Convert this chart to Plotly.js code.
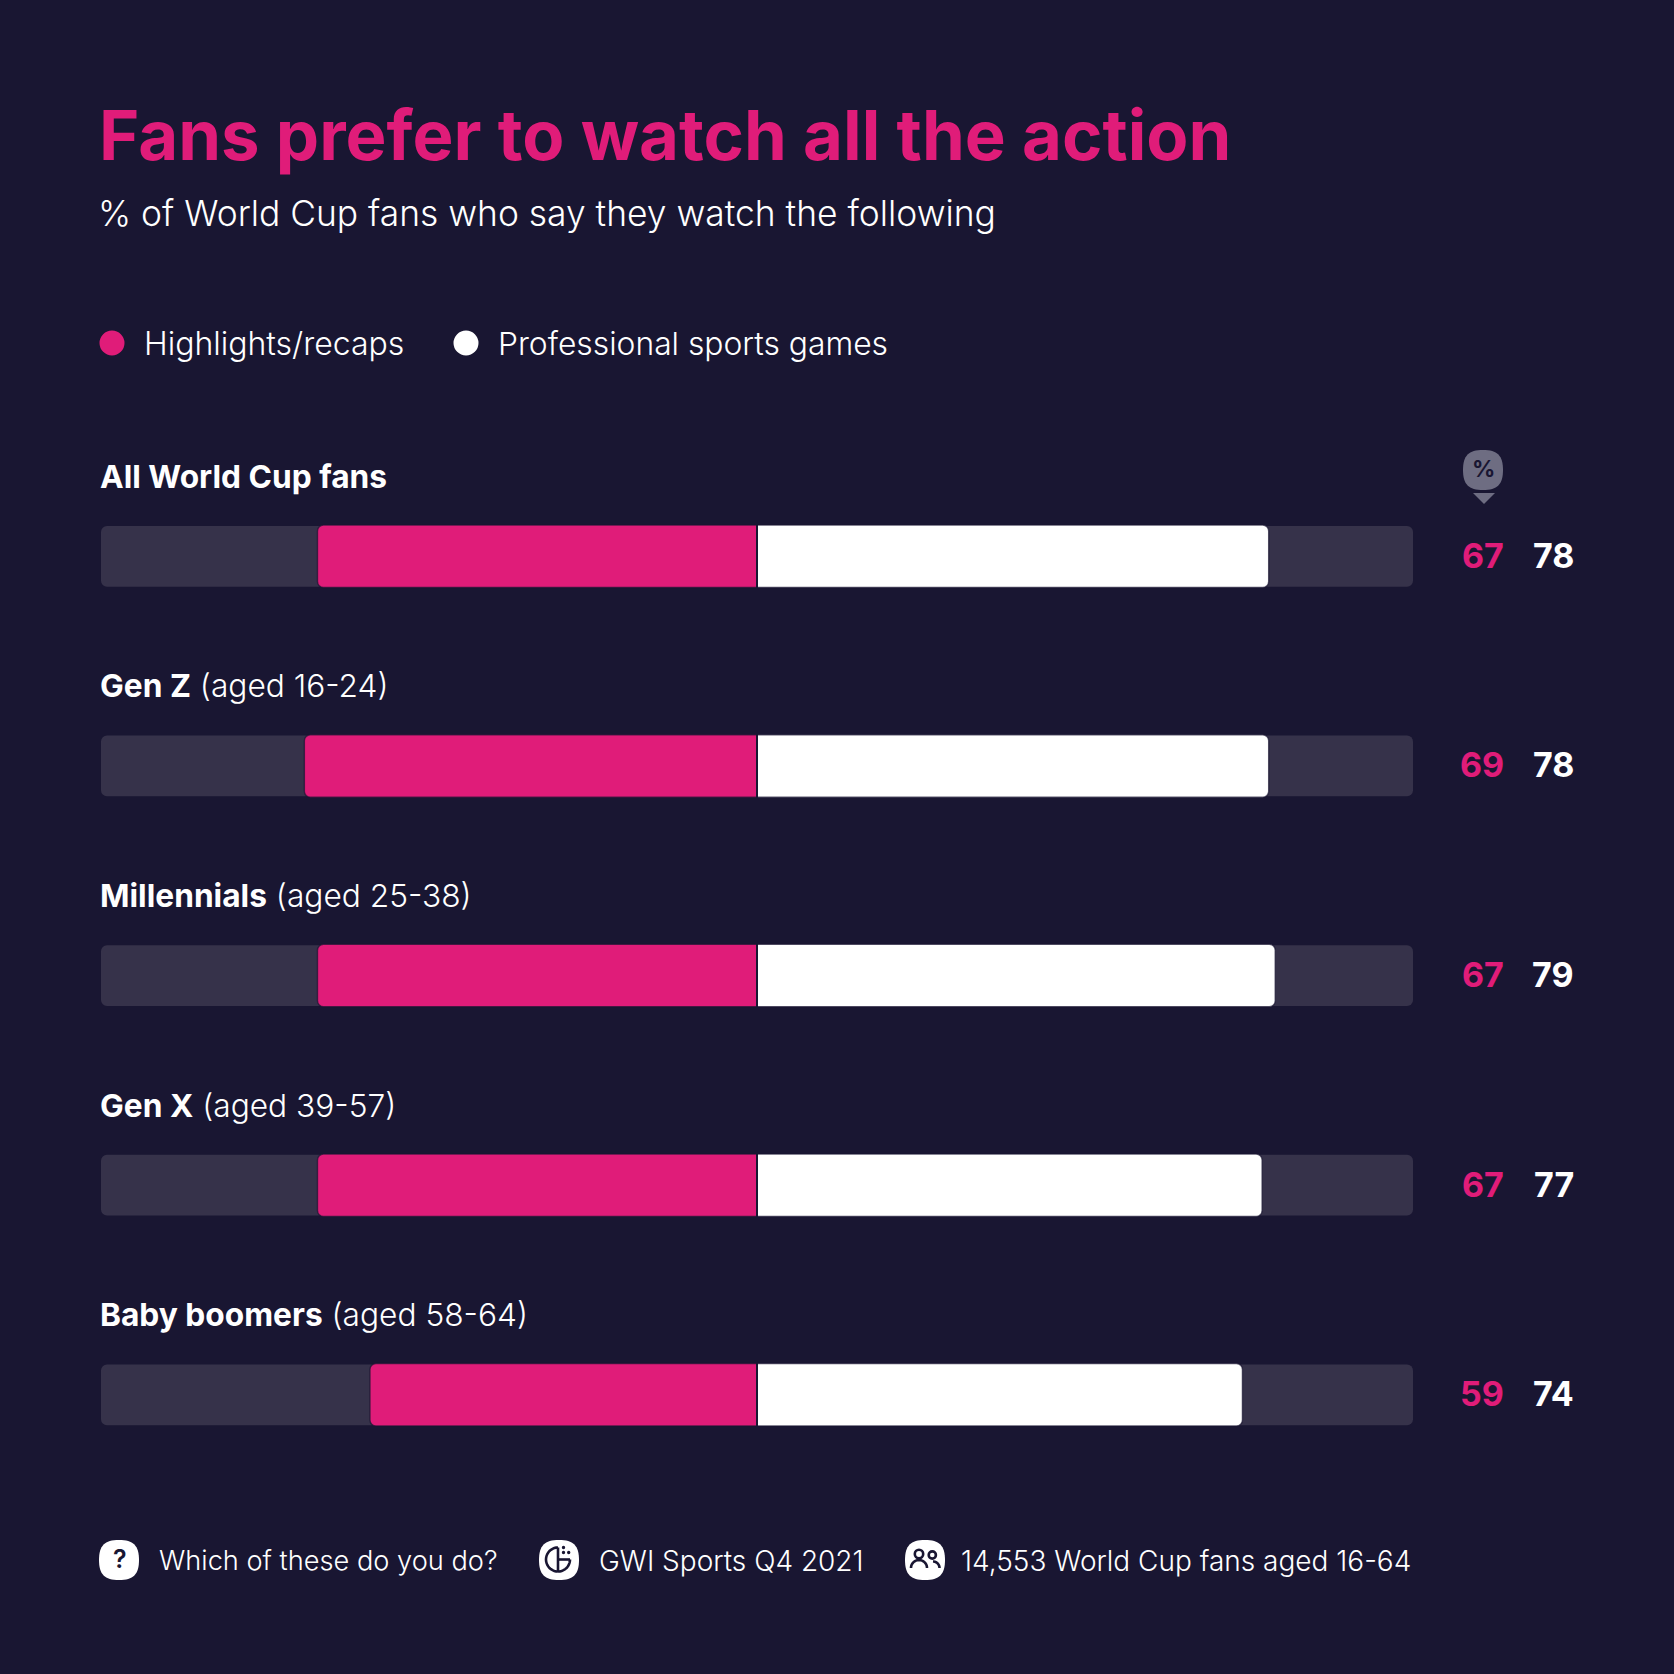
<!DOCTYPE html>
<html>
<head>
<meta charset="utf-8">
<script src="https://cdn.plot.ly/plotly-3.0.1.min.js"></script>
<style>html,body{margin:0;padding:0;background:#191632}#chart{width:1674px;height:1674px}</style>
</head>
<body>
<div id="chart"></div>
<script>
const groups = ['All World Cup fans', 'Gen Z', 'Millennials', 'Gen X', 'Baby boomers'];
const groupNotes = ['', '(aged 16-24)', '(aged 25-38)', '(aged 39-57)', '(aged 58-64)'];
const highlights = [67, 69, 67, 67, 59];
const professional = [78, 78, 79, 77, 74];
const trackMax = [100, 100, 100, 100, 100];

const BG = '#191632', PINK = '#e01c79', TRACK = '#36324a', BADGE = '#6e6d82', WHITE = '#ffffff';
const FONT = 'Inter, sans-serif';
const S = 1674;
const px = v => v / S;
const py = v => 1 - v / S;

function squircle(x0, y0, x1, y1) {
  const w = x1 - x0, h = y1 - y0, k = 0.14;
  const P = (x, y) => px(x) + ',' + py(y);
  const cx = (x0 + x1) / 2, cy = (y0 + y1) / 2;
  return 'M' + P(cx, y0) +
    'C' + P(x1 - w * k, y0) + ' ' + P(x1, y0 + h * k) + ' ' + P(x1, cy) +
    'C' + P(x1, y1 - h * k) + ' ' + P(x1 - w * k, y1) + ' ' + P(cx, y1) +
    'C' + P(x0 + w * k, y1) + ' ' + P(x0, y1 - h * k) + ' ' + P(x0, cy) +
    'C' + P(x0, y0 + h * k) + ' ' + P(x0 + w * k, y0) + ' ' + P(cx, y0) + 'Z';
}
function circle(cx, cy, r, color, line) {
  return {type: 'circle', xref: 'paper', yref: 'paper',
    x0: px(cx - r), x1: px(cx + r), y0: py(cy + r), y1: py(cy - r),
    fillcolor: line ? 'rgba(0,0,0,0)' : color,
    line: line ? {color: color, width: line} : {width: 0}};
}
function poly(points, color) {
  return {type: 'path', xref: 'paper', yref: 'paper', fillcolor: color, line: {width: 0},
    path: 'M' + points.map(p => px(p[0]) + ',' + py(p[1])).join('L') + 'Z'};
}
function arcPath(cx, cy, r, color, width, a0, a1) {
  const n = 20, pts = [];
  for (let i = 0; i <= n; i++) {
    const a = (a0 + (a1 - a0) * i / n) * Math.PI / 180;
    pts.push(px(cx + r * Math.cos(a)) + ',' + py(cy + r * Math.sin(a)));
  }
  return {type: 'path', xref: 'paper', yref: 'paper', line: {color: color, width: width},
    path: 'M' + pts.join('L')};
}
function seg(x0, y0, x1, y1, color, width) {
  return {type: 'line', xref: 'paper', yref: 'paper', x0: px(x0), x1: px(x1),
    y0: py(y0), y1: py(y1), line: {color: color, width: width}};
}
function text(str, x, y, size, color, anchor, weight) {
  return {text: str, xref: 'paper', yref: 'paper', x: px(x), y: py(y),
    xanchor: anchor || 'left', yanchor: 'middle', showarrow: false,
    font: {family: FONT, size: size, color: color, weight: weight || 300}};
}

const xDom = [px(101), px(1413)];
const yDom = [py(1499.6), py(451.5)];
const edge = {color: 'rgba(25,22,50,0.7)', width: 1.4};

const traces = [
  {type: 'bar', orientation: 'h', name: 'Track', y: groups, x: trackMax.map(v => -v), width: 0.29,
   marker: {color: TRACK, line: {width: 0}}, hoverinfo: 'skip', showlegend: false, xaxis: 'x', yaxis: 'y'},
  {type: 'bar', orientation: 'h', name: 'Track', y: groups, x: trackMax, width: 0.29,
   marker: {color: TRACK, line: {width: 0}}, hoverinfo: 'skip', showlegend: false, xaxis: 'x', yaxis: 'y'},
  {type: 'bar', orientation: 'h', name: 'Highlights/recaps', y: groups, x: highlights.map(v => -v), width: 0.298,
   marker: {color: PINK, line: edge}, hoverinfo: 'skip', showlegend: false, xaxis: 'x2', yaxis: 'y2'},
  {type: 'bar', orientation: 'h', name: 'Professional sports games', y: groups, x: professional, width: 0.298,
   marker: {color: WHITE, line: edge}, hoverinfo: 'skip', showlegend: false, xaxis: 'x2', yaxis: 'y2'}
];

const annotations = [
  text('<b>Fans prefer to watch all the action</b>', 97, 135, 68.8, PINK, 'left', 700),
  text('% of World Cup fans who say they watch the following', 96, 213, 35.4, WHITE),
  text('Highlights/recaps', 142, 343, 32, WHITE),
  text('Professional sports games', 496, 343, 31.8, WHITE),
  text('%', 1483, 469, 23, BG, 'center', 700),
  text('Which of these do you do?', 157, 1560.5, 27.2, WHITE),
  text('GWI Sports Q4 2021', 597, 1560.5, 28, WHITE),
  text('14,553 World Cup fans aged 16-64', 959, 1560.5, 28, WHITE),
  text('?', 119.5, 1559, 25, BG, 'center', 600)
];
groups.forEach((g, i) => {
  annotations.push({
    text: '<b>' + g + '</b>' + (groupNotes[i] ? ' ' + groupNotes[i] : ''),
    xref: 'paper', yref: 'y', x: px(98), y: g, yshift: 80, xanchor: 'left', yanchor: 'middle',
    showarrow: false, font: {family: FONT, size: 31.7, color: WHITE, weight: 300}
  });
  annotations.push({
    text: '<b>' + highlights[i] + '</b>', xref: 'paper', yref: 'y', x: px(1506), y: g, yshift: 1,
    xanchor: 'right', yanchor: 'middle', showarrow: false,
    font: {family: FONT, size: 34, color: PINK}
  });
  annotations.push({
    text: '<b>' + professional[i] + '</b>', xref: 'paper', yref: 'y', x: px(1576), y: g, yshift: 1,
    xanchor: 'right', yanchor: 'middle', showarrow: false,
    font: {family: FONT, size: 34, color: WHITE}
  });
});

const shapes = [
  {type: 'line', xref: 'x2', yref: 'paper', x0: 0, x1: 0, y0: yDom[0], y1: yDom[1], line: {color: BG, width: 2}},
  circle(112, 343, 12.5, PINK),
  circle(466, 343, 12.5, WHITE),
  {type: 'path', xref: 'paper', yref: 'paper', fillcolor: BADGE, line: {width: 0}, path: squircle(1463, 450, 1503, 490)},
  poly([[1473, 493], [1495, 493], [1484, 504]], BADGE),
  {type: 'path', xref: 'paper', yref: 'paper', fillcolor: WHITE, line: {width: 0}, path: squircle(99, 1540, 139, 1580)},
  {type: 'path', xref: 'paper', yref: 'paper', fillcolor: WHITE, line: {width: 0}, path: squircle(539, 1540, 579, 1580)},
  {type: 'path', xref: 'paper', yref: 'paper', fillcolor: WHITE, line: {width: 0}, path: squircle(905, 1540, 945, 1580)},
  // source icon
  arcPath(558, 1559.5, 12, BG, 2.6, 90, 270),
  arcPath(558, 1559.5, 12, BG, 2.6, 0, 90),
  seg(558, 1547.5, 558, 1571.5, BG, 2.6),
  seg(558, 1559.5, 570, 1559.5, BG, 2.6),
  circle(563.5, 1547.5, 1.7, BG), circle(563.5, 1552.5, 1.7, BG), circle(568.7, 1552.5, 1.7, BG),
  // people icon
  circle(919, 1554, 4.2, BG, 2.6),
  circle(932.3, 1555, 3.6, BG, 2.6),
  arcPath(919, 1568, 8, BG, 2.6, 180, 360),
  arcPath(933, 1568, 6.5, BG, 2.6, 270, 360)
];

const layout = {
  width: S, height: S,
  paper_bgcolor: BG, plot_bgcolor: 'rgba(0,0,0,0)',
  margin: {l: 0, r: 0, t: 0, b: 0},
  barmode: 'relative', bargap: 0.71, barcornerradius: 6,
  showlegend: false,
  xaxis: {domain: xDom, range: [-100, 100], visible: false, fixedrange: true},
  yaxis: {domain: yDom, categoryorder: 'array', categoryarray: groups, autorange: false, range: [4.5, -0.5], visible: false, fixedrange: true},
  xaxis2: {domain: xDom, range: [-100, 100], visible: false, overlaying: 'x', anchor: 'y2', fixedrange: true},
  yaxis2: {domain: yDom, categoryorder: 'array', categoryarray: groups, autorange: false, range: [4.5, -0.5], visible: false, overlaying: 'y', anchor: 'x2', fixedrange: true},
  annotations: annotations,
  shapes: shapes
};
Plotly.newPlot('chart', traces, layout, {displayModeBar: false, staticPlot: true});
</script>
</body>
</html>
